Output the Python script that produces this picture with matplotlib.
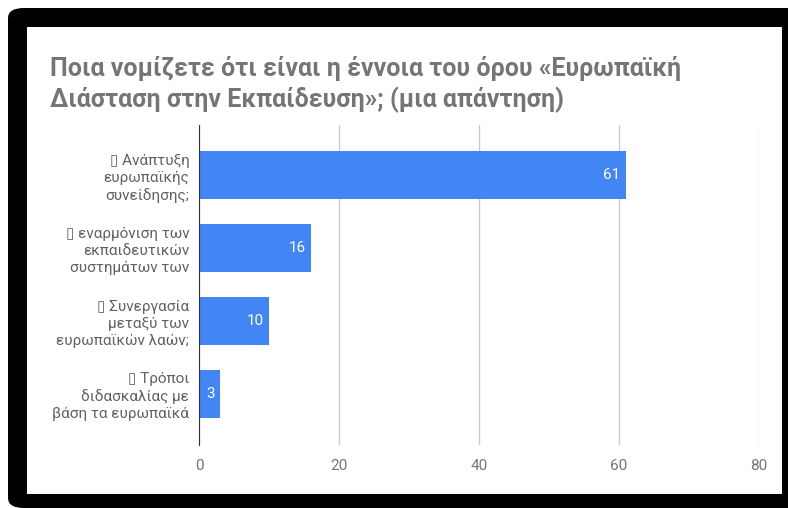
import matplotlib.pyplot as plt
from matplotlib.patches import FancyBboxPatch, Rectangle

plt.rcParams['font.family'] = ['Roboto', 'DejaVu Sans']

title = "Ποια νομίζετε ότι είναι η έννοια του όρου «Ευρωπαϊκή\nΔιάσταση στην Εκπαίδευση»; (μια απάντηση)"
labels = [
    "\u25af Ανάπτυξη\nευρωπαϊκής\nσυνείδησης;",
    "\u25af εναρμόνιση των\nεκπαιδευτικών\nσυστημάτων των",
    "\u25af Συνεργασία\nμεταξύ των\nευρωπαϊκών λαών;",
    "\u25af Τρόποι\nδιδασκαλίας με\nβάση τα ευρωπαϊκά",
]
values = [61, 16, 10, 3]
xticks = [0, 20, 40, 60, 80]

fig = plt.figure(figsize=(7.88, 5.08), dpi=100)

# черная рамка вокруг графика
fig.patches.append(FancyBboxPatch((8 / 788, 0.0), 1.2, 1 - 8 / 508,
                                  boxstyle="round,pad=0,rounding_size=0.02",
                                  transform=fig.transFigure, facecolor="black",
                                  edgecolor="none", zorder=-3))
fig.patches.append(Rectangle((27 / 788, 1 - 494 / 508), (782 - 27) / 788, (494 - 27) / 508,
                             transform=fig.transFigure, facecolor="white",
                             edgecolor="none", zorder=-2))

fig.text(50 / 788, 1 - 56 / 508, title, fontsize=18, fontweight="bold",
         color="#757575", va="top", ha="left", linespacing=1.3)

ax = fig.add_axes([199 / 788, 1 - 445 / 508, 560 / 788, 320 / 508])
ax.set_facecolor("none")
ypos = list(range(len(values)))
ax.barh(ypos, values, height=0.65, color="#4285f4", zorder=3)
for y, v in zip(ypos, values):
    ax.text(v - 0.8, y, str(v), color="white", fontsize=11, va="center", ha="right", zorder=4)

ax.set_xlim(0, 80)
ax.set_ylim(3.7, -0.685)
ax.set_xticks(xticks)
ax.set_yticks(ypos)
ax.set_yticklabels(labels, fontsize=11, color="#616161", linespacing=1.25)
ax.tick_params(axis="x", colors="#757575", labelsize=11, length=0, pad=10)
ax.tick_params(axis="y", length=0, pad=7)
ax.grid(axis="x", color="#cccccc", linewidth=1, zorder=0)
for s in ["top", "right", "bottom"]:
    ax.spines[s].set_visible(False)
ax.spines["left"].set_color("#333333")
ax.spines["left"].set_zorder(5)

fig.savefig("out.png", dpi=100)
